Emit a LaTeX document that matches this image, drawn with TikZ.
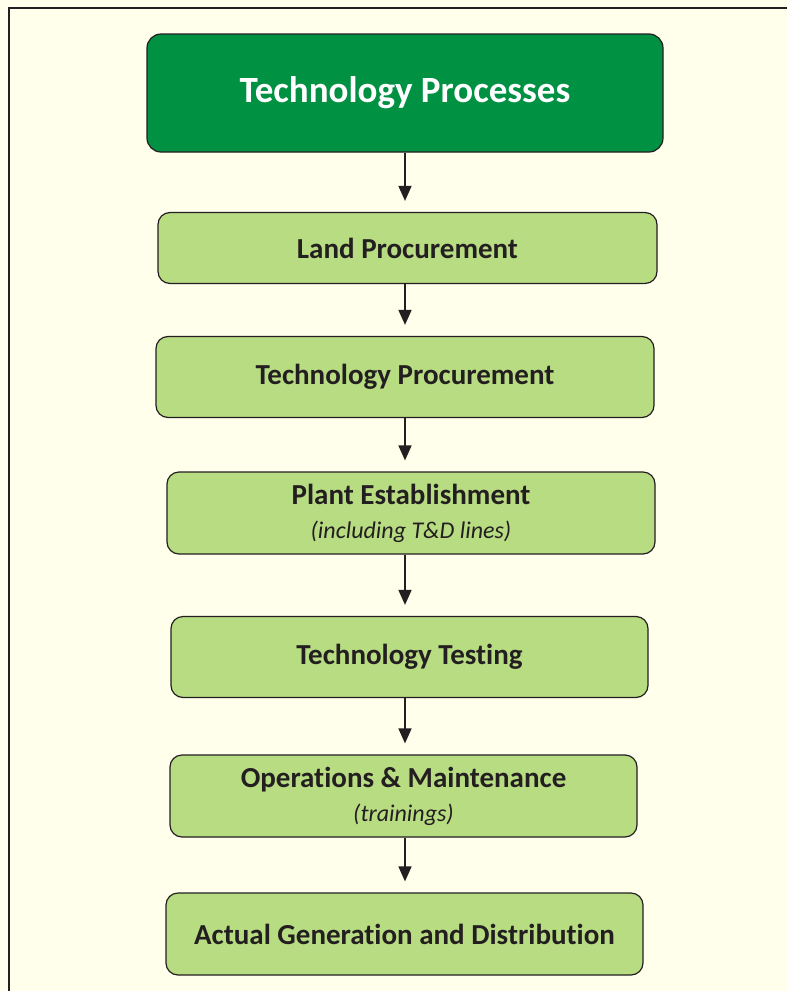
\documentclass[tikz,border=0pt]{standalone}
\usepackage{fontspec}
\setmainfont{Carlito}[Ligatures=NoCommon]
\usetikzlibrary{arrows.meta}

\definecolor{pagebg}{HTML}{FFFFEC}
\definecolor{darkgreen}{HTML}{009142}
\definecolor{lightgreen}{HTML}{B8DC82}
\definecolor{inktext}{HTML}{231F20}

\tikzset{
    titlebox/.style={draw=inktext, line width=1.2pt, fill=darkgreen, rounded corners=14pt,
        text=white, font=\fontsize{37}{40}\selectfont\bfseries, align=center},
    procbox/.style={draw=inktext, line width=1.2pt, fill=lightgreen, rounded corners=12pt,
        text=inktext, font=\fontsize{29}{31}\selectfont\bfseries, align=center},
    arr/.style={-{Triangle[width=13pt,length=15pt]}, line width=1.6pt, draw=inktext,
        shorten >=11pt}
}

\begin{document}
\begin{tikzpicture}[x=1pt,y=-1pt]
        \useasboundingbox (0,0) rectangle (787,991);
        \fill[pagebg] (0,0) rectangle (787,991);
        \draw[inktext, line width=1.5pt] (9,991) -- (9,8) -- (787,8);

        % Heading
        \node[titlebox, minimum width=516pt, minimum height=118pt] (title) at (405,93) {Technology Processes};

        % Process steps
        \node[procbox, minimum width=499pt, minimum height=71pt] (land) at (407.5,248) {Land Procurement};
        \node[procbox, minimum width=498pt, minimum height=81pt] (techproc) at (405,377) {Technology Procurement};
        \node[procbox, minimum width=488pt, minimum height=82pt] (plant) at (411,513)
            {Plant Establishment\\[3pt]{\mdseries\itshape\fontsize{24}{26}\selectfont (including T\&D lines)}};
        \node[procbox, minimum width=477pt, minimum height=81pt] (testing) at (409.5,657) {Technology Testing};
        \node[procbox, minimum width=467pt, minimum height=82pt] (om) at (403.5,796)
            {Operations \& Maintenance\\[3pt]{\mdseries\itshape\fontsize{24}{26}\selectfont (trainings)}};
        \node[procbox, minimum width=477pt, minimum height=82pt] (actual) at (404.5,934) {Actual Generation and Distribution};

        % Arrows
        \draw[arr] (title.south -| 405,0) -- (land.north -| 405,0);
        \draw[arr] (land.south -| 405,0) -- (techproc.north -| 405,0);
        \draw[arr] (techproc.south -| 405,0) -- (plant.north -| 405,0);
        \draw[arr] (plant.south -| 405,0) -- (testing.north -| 405,0);
        \draw[arr] (testing.south -| 405,0) -- (om.north -| 405,0);
        \draw[arr] (om.south -| 405,0) -- (actual.north -| 405,0);
    \end{tikzpicture}
\end{document}
